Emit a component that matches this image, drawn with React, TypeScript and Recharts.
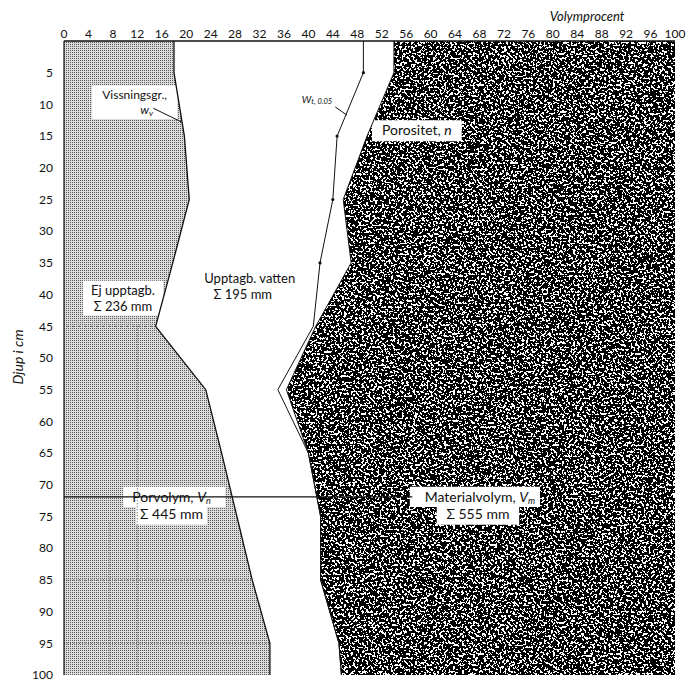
import React from 'react';
import {
  ComposedChart,
  Area,
  Line,
  XAxis,
  YAxis,
  ReferenceArea,
  ReferenceLine,
  ReferenceDot,
  Label,
} from 'recharts';

// djup (cm) och volymprocent
const depths = [0, 5, 15, 25, 35, 45, 55, 65, 75, 85, 95, 100];
const wiltingPoint = [18, 18, 19.7, 20.5, 17.8, 15, 23.2, 25.8, 28.3, 30.8, 33.7, 33.7];
const porosity = [54, 54, 49.6, 45.7, 47, 41.2, 36.4, 40, 42, 42, 45, 45.4];
const wt005 = [49, 49, 44.7, 44, 41.9, 40.8, 35, 40, 42, 42, 45, 45.4];

const volTicks = [0, 4, 8, 12, 16, 20, 24, 28, 32, 36, 40, 44, 48, 52, 56, 60, 64, 68, 72, 76, 80, 84, 88, 92, 96, 100];
const depthTicks = [5, 10, 15, 20, 25, 30, 35, 40, 45, 50, 55, 60, 65, 70, 75, 80, 85, 90, 95, 100];

const rows = depths.map((depth, i) => ({
  depth,
  wv: wiltingPoint[i],
  gap: porosity[i] - wiltingPoint[i],
  mat: 100 - porosity[i],
  n: porosity[i],
  wt: wt005[i],
}));

const FONT = 'Lato, "Open Sans", sans-serif';

type NoteLine = { text: React.ReactNode; dx?: number; dy: number; size?: number };

const noteContent = (lines: NoteLine[]) => (props: any) => {
  const vb = props.viewBox || {};
  const cx = vb.x + (vb.width || 0) / 2;
  return (
    <g>
      {lines.map((l, i) => (
        <text
          key={i}
          x={cx + (l.dx || 0)}
          y={vb.y + l.dy}
          textAnchor="middle"
          fontFamily={FONT}
          fontSize={l.size || 13}
          fill="#111"
        >
          {l.text}
        </text>
      ))}
    </g>
  );
};

const WtDot = (props: any) => {
  const { cx, cy, payload } = props;
  if (payload.depth < 5 || payload.depth > 35) return <g key={payload.depth} />;
  return <circle key={payload.depth} cx={cx} cy={cy} r={1.6} fill="#111" />;
};

export default function App() {
  return (
    <div style={{ position: 'absolute', left: 0, top: 0, background: '#fff', fontFamily: FONT }}>
      <ComposedChart
        width={687}
        height={682}
        data={rows}
        layout="vertical"
        margin={{ top: 0, right: 12, bottom: 7, left: 0 }}
      >
        <defs>
          <pattern id="stipple" patternUnits="userSpaceOnUse" width="2" height="2">
            <rect width="2" height="2" fill="#dcdcdc" />
            <rect width="1" height="1" fill="#5a5a5a" />
          </pattern>
          <filter id="grain" x="0" y="0" width="100%" height="100%">
            <feTurbulence type="fractalNoise" baseFrequency="0.45" numOctaves="2" seed="7" />
            <feColorMatrix type="matrix" values="0 0 0 0 0  0 0 0 0 0  0 0 0 0 0  1 0 0 0 0.06" />
            <feComponentTransfer>
              <feFuncA type="discrete" tableValues="0 1" />
            </feComponentTransfer>
          </filter>
          <pattern id="material" patternUnits="userSpaceOnUse" width="687" height="682">
            <rect width="687" height="682" fill="#fff" />
            <rect width="687" height="682" fill="#000" filter="url(#grain)" />
          </pattern>
        </defs>

        <XAxis
          type="number"
          orientation="top"
          domain={[0, 100]}
          ticks={volTicks}
          interval={0}
          height={41}
          tickSize={0}
          tickMargin={3}
          axisLine={{ stroke: '#111', strokeWidth: 1.6 }}
          tickLine={false}
          tick={{ fontSize: 12, fill: '#111', fontFamily: FONT }}
        >
          <Label
            content={() => (
              <text x={587} y={21} textAnchor="middle" fontFamily={FONT} fontSize={13} fontStyle="italic" fill="#111">
                Volymprocent
              </text>
            )}
          />
        </XAxis>
        <YAxis
          type="number"
          dataKey="depth"
          domain={[0, 100]}
          ticks={depthTicks}
          interval={0}
          width={64}
          tickSize={0}
          tickMargin={11}
          axisLine={{ stroke: '#111', strokeWidth: 1.2 }}
          tickLine={false}
          tick={{ fontSize: 12, fill: '#111', fontFamily: FONT }}
        >
          <Label
            content={() => (
              <text
                x={17}
                y={357}
                transform="rotate(-90 17 357)"
                textAnchor="middle"
                dominantBaseline="central"
                fontFamily={FONT}
                fontSize={14}
                fontStyle="italic"
                fill="#111"
              >
                Djup i cm
              </text>
            )}
          />
        </YAxis>

        <Area dataKey="wv" stackId="v" type="linear" stroke="none" fill="url(#stipple)" fillOpacity={1} isAnimationActive={false} />
        <Area dataKey="gap" stackId="v" type="linear" stroke="none" fill="#fff" fillOpacity={0} isAnimationActive={false} />
        <Area dataKey="mat" stackId="v" type="linear" stroke="none" fill="url(#material)" fillOpacity={1} isAnimationActive={false} />

        {/* prickade rasterlinjer i det ljusa fältet */}
        <ReferenceLine segment={[{ x: 0, y: 45 }, { x: 15, y: 45 }]} stroke="#555" strokeDasharray="1 2" />
        <ReferenceLine segment={[{ x: 0, y: 85 }, { x: 30.8, y: 85 }]} stroke="#555" strokeDasharray="1 2" />
        <ReferenceLine segment={[{ x: 0, y: 95 }, { x: 33.7, y: 95 }]} stroke="#555" strokeDasharray="1 2" />
        <ReferenceLine segment={[{ x: 12, y: 45 }, { x: 12, y: 100 }]} stroke="#555" strokeDasharray="1 2" />
        <ReferenceLine segment={[{ x: 7.5, y: 76 }, { x: 7.5, y: 100 }]} stroke="#555" strokeDasharray="1 2" />

        <Line dataKey="wv" type="linear" stroke="#111" strokeWidth={1.3} dot={false} isAnimationActive={false} />
        <Line dataKey="n" type="linear" stroke="#111" strokeWidth={1} dot={false} isAnimationActive={false} />
        <Line dataKey="wt" type="linear" stroke="#111" strokeWidth={1} dot={<WtDot />} isAnimationActive={false} />

        <ReferenceLine segment={[{ x: 0, y: 71.9 }, { x: 57, y: 71.9 }]} stroke="#111" strokeWidth={1.2} />
        <ReferenceLine segment={[{ x: 14.6, y: 10.6 }, { x: 19.3, y: 12.8 }]} stroke="#111" strokeWidth={1} />
        <ReferenceLine segment={[{ x: 44.4, y: 10.4 }, { x: 46.3, y: 11.7 }]} stroke="#111" strokeWidth={1} />

        <ReferenceArea x1={4.6} x2={18.5} y1={7.0} y2={12.3} fill="#fff" fillOpacity={1} stroke="none">
          <Label
            content={noteContent([
              { text: 'Vissningsgr.,', dy: 14, size: 12 },
              { text: <tspan fontStyle="italic">w<tspan fontSize={8.5} dy={2}>v</tspan></tspan>, dx: 12, dy: 29, size: 12 },
            ])}
          />
        </ReferenceArea>
        <ReferenceArea x1={3.1} x2={16.2} y1={37.8} y2={43.3} fill="#fff" fillOpacity={1} stroke="none">
          <Label
            content={noteContent([
              { text: 'Ej upptagb.', dy: 14 },
              { text: 'Σ 236 mm', dy: 30 },
            ])}
          />
        </ReferenceArea>
        <ReferenceArea x1={21.4} x2={39.4} y1={36.0} y2={41.3} fillOpacity={0} stroke="none">
          <Label
            content={noteContent([
              { text: 'Upptagb. vatten', dy: 14 },
              { text: 'Σ 195 mm', dx: -7, dy: 30 },
            ])}
          />
        </ReferenceArea>
        <ReferenceArea x1={50.4} x2={65.1} y1={12.5} y2={15.8} fill="#fff" fillOpacity={1} stroke="none">
          <Label content={noteContent([{ text: <tspan>Porositet, <tspan fontStyle="italic">n</tspan></tspan>, dy: 15, size: 14 }])} />
        </ReferenceArea>
        <ReferenceDot x={41.4} y={9.3} r={0} fill="none" stroke="none">
          <Label
            content={noteContent([
              { text: <tspan fontStyle="italic">W<tspan fontSize={7.5} dy={1}>t, 0.05</tspan></tspan>, dy: 3, size: 10 },
            ])}
          />
        </ReferenceDot>

        <ReferenceArea x1={9.7} x2={26.4} y1={70.3} y2={73.5} fill="#fff" fillOpacity={1} stroke="none" />
        <ReferenceArea x1={11.8} x2={23.4} y1={73.5} y2={76.3} fill="#fff" fillOpacity={1} stroke="none">
          <Label
            content={noteContent([
              { text: <tspan>Porvolym, <tspan fontStyle="italic">V<tspan fontSize={9} dy={2}>n</tspan></tspan></tspan>, dy: -4.5, size: 14 },
              { text: 'Σ 445 mm', dy: 12.5, size: 14 },
            ])}
          />
        </ReferenceArea>
        <ReferenceArea x1={56.6} x2={77.9} y1={70.3} y2={73.5} fill="#fff" fillOpacity={1} stroke="none" />
        <ReferenceArea x1={61} x2={74.5} y1={73.5} y2={76.3} fill="#fff" fillOpacity={1} stroke="none">
          <Label
            content={noteContent([
              { text: <tspan>Materialvolym, <tspan fontStyle="italic">V<tspan fontSize={9} dy={2}>m</tspan></tspan></tspan>, dx: 2, dy: -5, size: 14 },
              { text: 'Σ 555 mm', dy: 12.5, size: 14 },
            ])}
          />
        </ReferenceArea>
      </ComposedChart>
    </div>
  );
}
